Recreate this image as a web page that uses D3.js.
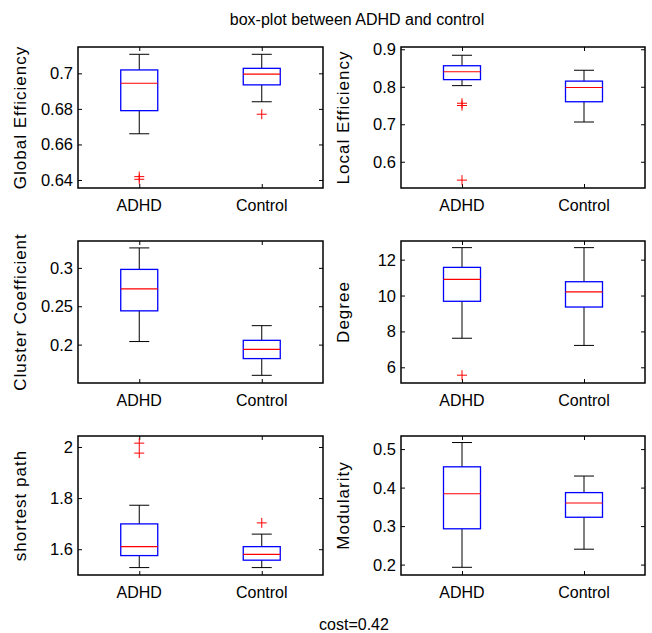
<!DOCTYPE html>
<html>
<head>
<meta charset="utf-8">
<script src="https://cdn.jsdelivr.net/npm/d3@7"></script>
<style>
  body { margin: 0; background: #fff; }
  text { font-family: "Liberation Sans", Arial, sans-serif; fill: #000; }
</style>
</head>
<body>
<svg id="chart" width="652" height="633"></svg>
<script>
// values
let groups = ["ADHD", "Control"]
let metrics = ["Global Efficiency", "Local Efficiency", "Cluster Coefficient", "Degree", "shortest path", "Modularity"]

// [ADHD, Control] for every metric
let whiskerLow  = [[0.666, 0.684], [0.803, 0.706], [0.204, 0.160], [7.62, 7.22], [1.528, 1.528], [0.193, 0.240]]
let quart1      = [[0.679, 0.6935], [0.819, 0.760], [0.244, 0.1818], [9.68, 9.36], [1.575, 1.557], [0.293, 0.323]]
let medians     = [[0.6944, 0.6995], [0.840, 0.798], [0.2726, 0.1938], [10.9, 10.2], [1.610, 1.580], [0.384, 0.360]]
let quart3      = [[0.7019, 0.7028], [0.856, 0.815], [0.298, 0.2056], [11.57, 10.77], [1.699, 1.610], [0.454, 0.387]]
let whiskerHigh = [[0.7107, 0.7107], [0.884, 0.844], [0.326, 0.2247], [12.67, 12.67], [1.772, 1.659], [0.517, 0.430]]
let outliers    = [[[0.6419, 0.6404], [0.677]], [[0.756, 0.750, 0.551], []], [[], []], [[5.56], []], [[2.015, 1.976], [1.703]], [[], []]]

let yDomains = [[0.6355, 0.7148], [0.530, 0.906], [0.150, 0.335], [5.125, 13.04], [1.499, 2.043], [0.173, 0.534]]
let yTicks = [[0.64, 0.66, 0.68, 0.7], [0.6, 0.7, 0.8, 0.9], [0.2, 0.25, 0.3], [6, 8, 10, 12], [1.6, 1.8, 2], [0.2, 0.3, 0.4, 0.5]]

let svg = d3.select("#chart")

// panel placement (2 columns x 3 rows)
let colX = [[78, 323], [401, 645]]
let rowY = [[47, 188], [241, 383], [436, 575]]

svg.append("text")
    .attr("x", 357).attr("y", 25)
    .attr("text-anchor", "middle")
    .style("font-size", "16px")
    .text("box-plot between ADHD and control")

svg.append("text")
    .attr("x", 354).attr("y", 630)
    .attr("text-anchor", "middle")
    .style("font-size", "16px")
    .text("cost=0.42")

metrics.forEach(function(name, i) {
    let [x0, x1] = colX[i % 2]
    let [y0, y1] = rowY[Math.floor(i / 2)]

    let xScale = d3.scalePoint().domain(groups).range([x0, x1]).padding(0.5)
    let yScale = d3.scaleLinear().domain(yDomains[i]).range([y1, y0])

    let g = svg.append("g")

    // ticks pointing inwards, left and right
    let yAxisL = d3.axisRight(yScale).tickValues(yTicks[i]).tickSize(4).tickFormat("")
    let yAxisR = d3.axisLeft(yScale).tickValues(yTicks[i]).tickSize(4).tickFormat("")
    let xAxisB = d3.axisTop(xScale).tickSize(4).tickFormat("")
    let xAxisT = d3.axisBottom(xScale).tickSize(4).tickFormat("")
    g.append("g").attr("transform", `translate(${x0},0)`).call(yAxisL)
    g.append("g").attr("transform", `translate(${x1},0)`).call(yAxisR)
    g.append("g").attr("transform", `translate(0,${y1})`).call(xAxisB)
    g.append("g").attr("transform", `translate(0,${y0})`).call(xAxisT)
    g.selectAll(".domain").remove()
    g.selectAll(".tick line").attr("stroke", "#000")

    // tick labels
    g.selectAll(".ylab").data(yTicks[i]).enter().append("text")
        .attr("x", x0 - 5)
        .attr("y", d => yScale(d) + 6)
        .attr("text-anchor", "end")
        .style("font-size", "16.5px")
        .text(d => d3.format("~g")(d))
    g.selectAll(".xlab").data(groups).enter().append("text")
        .attr("x", d => xScale(d))
        .attr("y", y1 + 23)
        .attr("text-anchor", "middle")
        .style("font-size", "16px")
        .text(d => d)

    // y label
    let lx = x0 - 52, ly = (y0 + y1) / 2
    g.append("text")
        .attr("x", lx).attr("y", ly)
        .attr("text-anchor", "middle")
        .attr("transform", `rotate(-90,${lx},${ly})`)
        .style("font-size", "17px")
        .style("letter-spacing", "1px")
        .text(name)

    let boxW = 37, capW = 20

    groups.forEach(function(grp, j) {
        let cx = xScale(grp)
        // whiskers
        g.append("line")
            .attr("x1", cx).attr("x2", cx)
            .attr("y1", yScale(whiskerHigh[i][j])).attr("y2", yScale(quart3[i][j]))
            .attr("stroke", "#000")
        g.append("line")
            .attr("x1", cx).attr("x2", cx)
            .attr("y1", yScale(quart1[i][j])).attr("y2", yScale(whiskerLow[i][j]))
            .attr("stroke", "#000")
        ;[whiskerHigh[i][j], whiskerLow[i][j]].forEach(function(v) {
            g.append("line")
                .attr("x1", cx - capW / 2).attr("x2", cx + capW / 2)
                .attr("y1", yScale(v)).attr("y2", yScale(v))
                .attr("stroke", "#000")
        })
        // box
        g.append("rect")
            .attr("x", cx - boxW / 2)
            .attr("y", yScale(quart3[i][j]))
            .attr("width", boxW)
            .attr("height", yScale(quart1[i][j]) - yScale(quart3[i][j]))
            .attr("fill", "none")
            .attr("stroke", "#0000ff")
            .attr("stroke-width", 1.3)
        // median
        g.append("line")
            .attr("x1", cx - boxW / 2).attr("x2", cx + boxW / 2)
            .attr("y1", yScale(medians[i][j])).attr("y2", yScale(medians[i][j]))
            .attr("stroke", "#ff0000")
            .attr("stroke-width", 1.2)
        // outliers as red plus signs
        outliers[i][j].forEach(function(v) {
            let py = yScale(v)
            g.append("path")
                .attr("d", `M${cx - 5},${py}H${cx + 5}M${cx},${py - 5}V${py + 5}`)
                .attr("stroke", "#ff0000")
                .attr("fill", "none")
        })
    })

    // axes frame on top
    g.append("rect")
        .attr("x", x0).attr("y", y0)
        .attr("width", x1 - x0).attr("height", y1 - y0)
        .attr("fill", "none")
        .attr("stroke", "#000")
        .attr("stroke-width", 1.5)
})
</script>
</body>
</html>
